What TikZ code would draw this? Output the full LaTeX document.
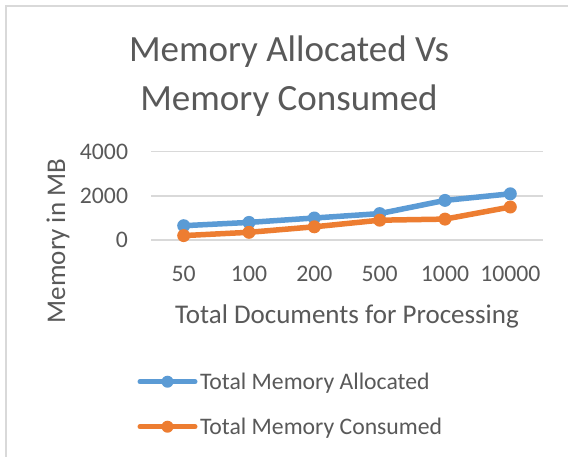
\documentclass[tikz,border=0pt]{standalone}
\usepackage{fontspec}
\setmainfont{Carlito}
\definecolor{allocblue}{HTML}{5B9BD5}
\definecolor{consorange}{HTML}{ED7D31}
\definecolor{labelgray}{HTML}{595959}
\definecolor{gridgray}{HTML}{D9D9D9}
\tikzset{
  txt/.style={inner sep=0pt, outer sep=0pt, text=labelgray},
  titletxt/.style={txt, font=\fontsize{37}{44}\selectfont, anchor=base},
  ticktxt/.style={txt, font=\fontsize{23.7}{28}\selectfont},
  axistxt/.style={txt, font=\fontsize{27}{32}\selectfont},
  gridline/.style={draw=gridgray, line width=1.3pt},
  series/.style={line width=5.5pt, line join=round, line cap=round},
  dot/.style={circle, fill=#1, minimum size=13pt, inner sep=0pt},
  legdot/.style={circle, fill=#1, minimum size=12pt, inner sep=0pt},
}
\begin{document}
\begin{tikzpicture}[x=1pt, y=-1pt]
  \useasboundingbox (0,0) rectangle (568,456);
  \fill[white] (0,0) rectangle (568,456);
  % chart frame (runs past the right and bottom edges)
  \draw[gridgray, line width=1.5pt] (5.8,470) -- (5.8,5.8) -- (580,5.8);

  % title
  \node[titletxt] (t1) at (289,61.7) {Memory Allocated Vs};
  \node[titletxt] (t2) at (289,110) {Memory Consumed};

  % horizontal gridlines and value labels
  \foreach \v/\y in {0/240, 2000/196, 4000/151.8} {
    \draw[gridline] (151,\y) -- (543,\y);
    \node[ticktxt, anchor=base east] at (128,\y+7.5) {\v};
  }

  % category labels
  \foreach \c/\x in {50/183.7, 100/249, 200/314.3, 500/379.7, 1000/445, 10000/510.3} {
    \node[ticktxt, anchor=base] at (\x,281) {\c};
  }

  % axis titles
  \node[axistxt, anchor=base] (xt) at (347,323.5) {Total Documents for Processing};
  \node[axistxt, anchor=base, rotate=90] (yt) at (65,241) {Memory in MB};

  % data points (value v sits at y = 240 - v*44/2000)
  \foreach \n/\x/\a/\b in {1/183.7/650/200, 2/249/800/350, 3/314.3/1000/600,
                           4/379.7/1200/900, 5/445/1800/950, 6/510.3/2100/1500} {
    \coordinate (a\n) at (\x,{240-\a*0.022});
    \coordinate (b\n) at (\x,{240-\b*0.022});
  }
  \draw[series, allocblue] (a1) -- (a2) -- (a3) -- (a4) -- (a5) -- (a6);
  \draw[series, consorange] (b1) -- (b2) -- (b3) -- (b4) -- (b5) -- (b6);
  \foreach \n in {1,...,6} {
    \node[dot=allocblue] (pa\n) at (a\n) {};
    \node[dot=consorange] (pb\n) at (b\n) {};
  }

  % legend
  \coordinate (la0) at (140,381.7);
  \coordinate (la1) at (195,381.7);
  \coordinate (lb0) at (140,426.7);
  \coordinate (lb1) at (195,426.7);
  \draw[series, line width=5pt, allocblue] (la0) -- (la1);
  \draw[series, line width=5pt, consorange] (lb0) -- (lb1);
  \node[legdot=allocblue] (lam) at (167.5,381.7) {};
  \node[legdot=consorange] (lbm) at (167.5,426.7) {};
  \node[ticktxt, anchor=base west] (la) at (200,389) {Total Memory Allocated};
  \node[ticktxt, anchor=base west] (lb) at (200,434) {Total Memory Consumed};
\end{tikzpicture}
\end{document}
